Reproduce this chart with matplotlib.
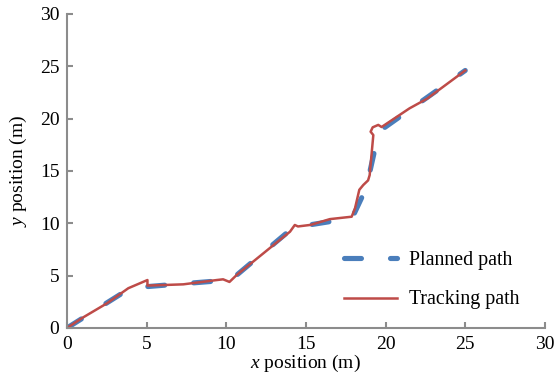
import numpy as np
import matplotlib
matplotlib.use("Agg")
import matplotlib.pyplot as plt

# planned path waypoints (m)
plan_x = [0, 3.7, 5.0, 10.3, 14.2, 17.9, 18.7, 18.95, 19.45, 19.8, 25.0]
plan_y = [0, 3.55, 3.95, 4.6, 9.6, 10.5, 13.1, 14.5, 17.9, 19.0, 24.6]

# tracking path (m)
track_x = [0, 1.0, 2.5, 3.85, 5.05, 5.05, 7.3, 9.4, 9.8, 10.2, 10.65, 14.0,
           14.3, 14.5, 15.3, 16.5, 17.87, 18.08, 18.35, 18.6, 18.9, 19.0, 19.23,
           19.06, 19.19, 19.54, 19.75, 21.5, 22.6, 25.0]
track_y = [0, 1.0, 2.35, 3.8, 4.58, 4.05, 4.17, 4.58, 4.65, 4.4, 5.06, 9.2,
           9.84, 9.7, 9.85, 10.4, 10.63, 11.43, 13.2, 13.66, 14.1, 14.6, 18.43,
           18.75, 19.17, 19.4, 19.2, 20.98, 21.9, 24.6]

ticks = [0, 5, 10, 15, 20, 25, 30]

plt.rcParams['font.family'] = ['Liberation Serif', 'DejaVu Serif']
plt.rcParams['mathtext.fontset'] = 'custom'
plt.rcParams['mathtext.it'] = 'Liberation Serif:italic'
plt.rcParams['mathtext.rm'] = 'Liberation Serif'

fig = plt.figure(figsize=(5.56, 3.77), dpi=100)
ax = fig.add_axes([0.1205, 0.130, 0.8595, 0.833])

blue = '#4a7ebb'
red = '#be4b48'

ax.plot(plan_x, plan_y, color=blue, lw=3.7, dashes=(3.3, 5.65),
        dash_capstyle='round', label='Planned path')
ax.plot(track_x, track_y, color=red, lw=1.8, solid_joinstyle='round',
        label='Tracking path')

ax.set_xlim(0, 30)
ax.set_ylim(0, 30)
ax.set_xticks(ticks)
ax.set_yticks(ticks)

gray = '#8c8c8c'
for s in ['top', 'right']:
    ax.spines[s].set_visible(False)
for s in ['left', 'bottom']:
    ax.spines[s].set_color(gray)
    ax.spines[s].set_linewidth(1.5)
ax.tick_params(direction='in', length=4.5, width=1.5, color=gray,
               labelsize=14, pad=5.5)

ax.set_xlabel('$x$ position (m)', fontsize=14, labelpad=0)
ax.set_ylabel('$y$ position (m)', fontsize=14, labelpad=8)

leg = ax.legend(loc='lower right', frameon=False, fontsize=14.3,
                handlelength=2.7, handletextpad=0.6, labelspacing=1.05,
                bbox_to_anchor=(0.985, 0.002))

fig.savefig('out.png', dpi=100)
